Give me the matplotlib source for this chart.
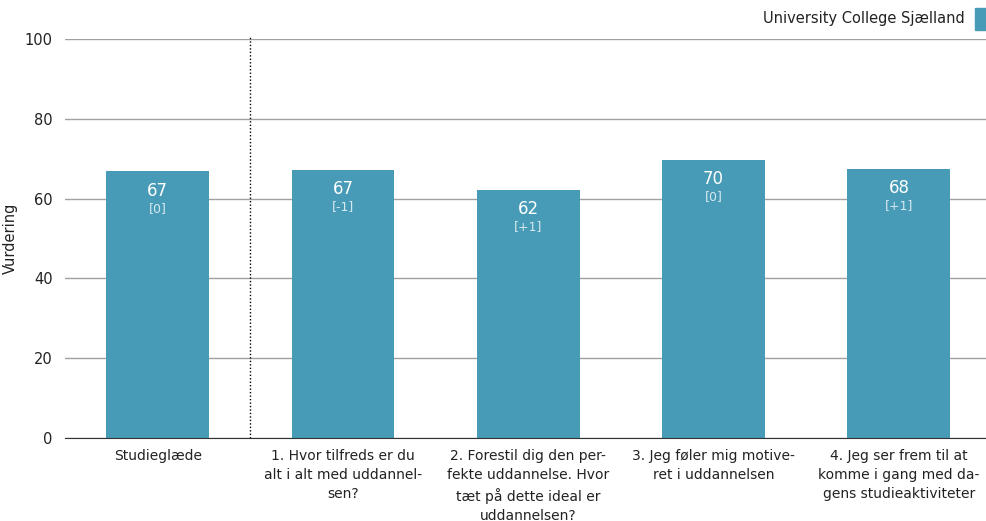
import matplotlib
matplotlib.use("Agg")
import matplotlib.pyplot as plt
import numpy as np

# ── Data ─────────────────────────────────────────────────────────────────────
categories = [
    "Studieglæde",
    "1. Hvor tilfreds er du\nalt i alt med uddannel-\nsen?",
    "2. Forestil dig den per-\nfekte uddannelse. Hvor\ntæt på dette ideal er\nuddannelsen?",
    "3. Jeg føler mig motive-\nret i uddannelsen",
    "4. Jeg ser frem til at\nkomme i gang med da-\ngens studieaktiviteter",
]
values = [66.8, 67.1, 62.2, 69.7, 67.4]
value_labels = ["67", "67", "62", "70", "68"]
change_labels = ["[0]", "[-1]", "[+1]", "[0]", "[+1]"]
series_name = "University College Sjælland"
yticks = [0, 20, 40, 60, 80, 100]

BAR_COLOR = "#489bb6"

fig = plt.figure(figsize=(9.86, 5.21), dpi=100)
ax = fig.add_axes([65 / 986, 1 - 438 / 521, 921 / 986, 399 / 521])

x = np.arange(len(categories))
ax.bar(x, values, width=0.555, color=BAR_COLOR, zorder=3)

for xi, v, vl, cl in zip(x, values, value_labels, change_labels):
    ax.text(xi, v - 4.8, vl, ha="center", va="center", color="white",
            fontsize=12, zorder=4)
    ax.text(xi, v - 9.2, cl, ha="center", va="center", color="#d6e8f0",
            fontsize=9, zorder=4)

# separator between overall score and the individual questions
ax.axvline(0.5, ymin=0, ymax=1.005, color="black", linestyle=(0, (1, 1.5)),
           linewidth=1, zorder=2, clip_on=False)

ax.set_xlim(-0.5, 4.47)
ax.set_ylim(0, 100)
ax.set_yticks(yticks)
ax.set_yticklabels([str(t) for t in yticks], fontsize=10.5, color="#222222")
ax.set_xticks(x)
ax.set_xticklabels(categories, fontsize=10, color="#222222", linespacing=1.45,
                   va="top")
ax.tick_params(axis="both", length=0)
ax.tick_params(axis="y", pad=9)
ax.tick_params(axis="x", pad=8)

ax.yaxis.grid(True, color="#a0a0a0", linewidth=1, zorder=1)
for s in ["left", "right", "top"]:
    ax.spines[s].set_visible(False)
ax.spines["bottom"].set_color("#333333")
ax.spines["bottom"].set_zorder(5)

ax.set_ylabel("Vurdering", fontsize=10.5, color="#222222", labelpad=5)

# legend in the top right corner
fig.text(965 / 986, 1 - 18 / 521, series_name, ha="right", va="center",
         fontsize=10.5, color="#222222")
fig.patches.append(plt.Rectangle((975 / 986, 1 - 30 / 521), 11 / 986, 22 / 521,
                                 transform=fig.transFigure, color=BAR_COLOR))

fig.savefig("out.png", dpi=100)
